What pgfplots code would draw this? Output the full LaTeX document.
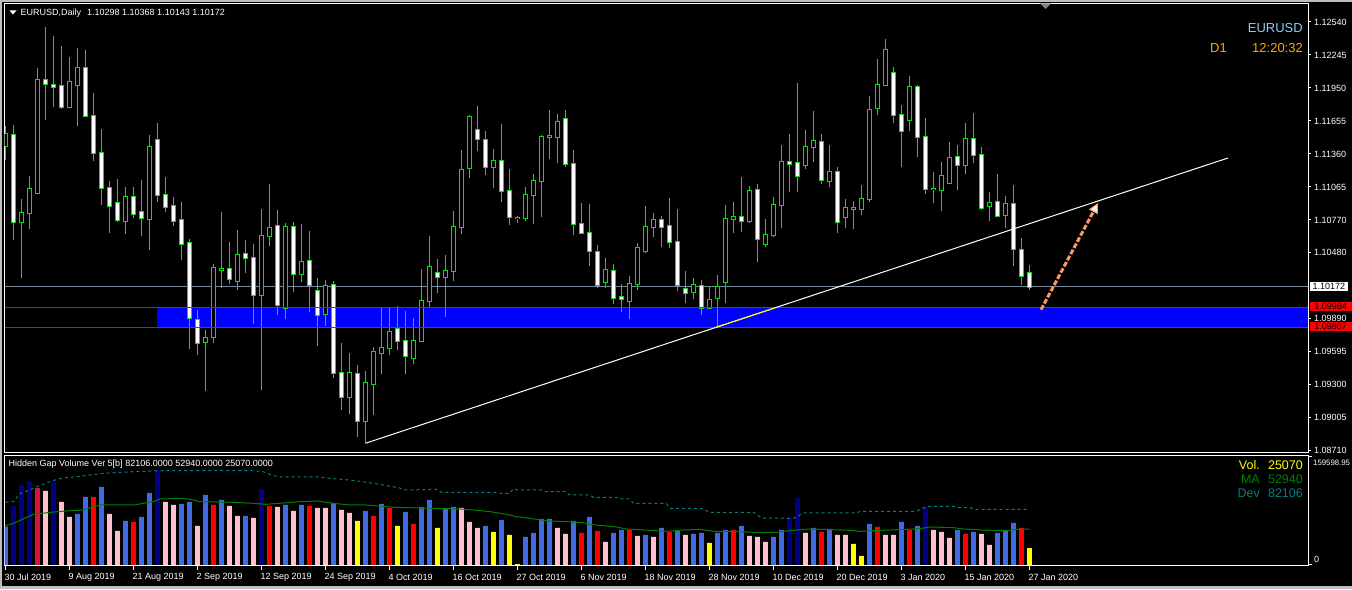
\documentclass[border=0pt]{standalone}
\usepackage{pgfplots}
\pgfplotsset{compat=1.18}
\usepackage{pgfplotstable}
\usepackage{fontspec}
\setmainfont{Liberation Sans}
\usetikzlibrary{arrows.meta}

\definecolor{cgreen}{RGB}{0,230,0}
\definecolor{royal}{RGB}{65,105,225}
\definecolor{navyb}{RGB}{0,0,128}
\definecolor{crim}{RGB}{220,20,60}
\definecolor{pinkc}{RGB}{255,192,203}
\definecolor{yel}{RGB}{255,255,0}
\definecolor{mag}{RGB}{0,128,0}
\definecolor{devc}{RGB}{0,128,128}
\definecolor{zone}{RGB}{0,0,255}
\definecolor{bidgray}{RGB}{119,136,153}
\definecolor{skyl}{RGB}{135,206,250}
\definecolor{orng}{RGB}{255,165,0}
\definecolor{arrowc}{RGB}{250,150,100}
\definecolor{frame}{RGB}{190,190,190}

% bullish candles (close > open)
\pgfplotstableread{
k O H L C
0 1.11435 1.11611 1.11307 1.11539
2 1.10749 1.10958 1.10255 1.10830
3 1.10836 1.11161 1.10693 1.11044
4 1.11015 1.12129 1.11003 1.12019
8 1.11784 1.12225 1.11775 1.12001
9 1.11974 1.12308 1.11614 1.12126
15 1.10758 1.11062 1.10648 1.10973
18 1.10776 1.11527 1.10505 1.11420
25 1.09677 1.09784 1.09245 1.09712
26 1.09721 1.10374 1.09674 1.10338
27 1.10327 1.10839 1.10159 1.10329
29 1.10228 1.10678 1.10147 1.10454
32 1.10097 1.10866 1.09253 1.10624
33 1.10624 1.11089 1.10541 1.10696
35 1.09981 1.10741 1.09888 1.10705
37 1.10285 1.10732 1.10219 1.10392
40 1.09927 1.10231 1.09826 1.10177
43 1.09185 1.09578 1.09039 1.09400
45 1.08970 1.09417 1.08774 1.09310
46 1.09301 1.09632 1.09030 1.09587
47 1.09578 1.09981 1.09397 1.09623
48 1.09623 1.09981 1.09560 1.09766
51 1.09534 1.09891 1.09486 1.09686
52 1.09686 1.10329 1.09683 1.10043
53 1.10043 1.10624 1.09996 1.10347
55 1.10258 1.10454 1.09906 1.10311
56 1.10311 1.10848 1.10222 1.10705
57 1.10705 1.11393 1.10642 1.11214
58 1.11232 1.11706 1.11143 1.11688
61 1.11241 1.11402 1.11053 1.11295
64 1.10784 1.10803 1.10741 1.10786
65 1.10785 1.11062 1.10758 1.10991
66 1.10991 1.11179 1.10732 1.11116
67 1.11116 1.11527 1.10794 1.11509
68 1.11512 1.11751 1.11313 1.11518
69 1.11509 1.11715 1.11277 1.11643
75 1.10213 1.10428 1.10159 1.10320
78 1.10043 1.10267 1.09882 1.10195
79 1.10195 1.10562 1.10142 1.10517
80 1.10490 1.10893 1.10472 1.10705
81 1.10705 1.10830 1.10615 1.10767
86 1.10124 1.10249 1.10061 1.10186
88 1.09981 1.10168 1.09972 1.10052
89 1.10070 1.10276 1.09802 1.10168
90 1.10213 1.10901 1.10025 1.10776
91 1.10776 1.10928 1.10651 1.10794
93 1.10758 1.11071 1.10741 1.11027
95 1.10553 1.10776 1.10526 1.10633
96 1.10633 1.10973 1.10615 1.10901
97 1.10901 1.11438 1.10696 1.11286
100 1.11259 1.11572 1.11223 1.11420
101 1.11420 1.11742 1.11286 1.11474
103 1.11116 1.11438 1.11062 1.11196
105 1.10794 1.10955 1.10696 1.10875
106 1.10871 1.10937 1.10687 1.10873
107 1.10866 1.11080 1.10812 1.10955
108 1.10955 1.11879 1.10928 1.11751
109 1.11769 1.12207 1.11706 1.11974
110 1.11974 1.12385 1.11965 1.12287
113 1.11661 1.12055 1.11563 1.11956
116 1.11043 1.11196 1.10919 1.11045
117 1.11036 1.11286 1.10848 1.11161
118 1.11098 1.11465 1.11089 1.11322
120 1.11259 1.11635 1.11179 1.11491
123 1.10893 1.11018 1.10758 1.10919
125 1.10812 1.10982 1.10696 1.10910
}\bull

% bearish candles (close < open)
\pgfplotstableread{
k O H L C
1 1.11527 1.11620 1.10592 1.10749
5 1.12019 1.12493 1.11667 1.11983
6 1.11974 1.12412 1.11784 1.11956
7 1.11965 1.12323 1.11766 1.11784
10 1.12126 1.12287 1.11697 1.11697
11 1.11697 1.11903 1.11301 1.11366
12 1.11366 1.11581 1.10907 1.11053
13 1.11053 1.11116 1.10657 1.10893
14 1.10919 1.11134 1.10755 1.10767
16 1.10973 1.11062 1.10791 1.10827
17 1.10839 1.11125 1.10630 1.10785
19 1.11483 1.11635 1.10934 1.10991
20 1.10991 1.11152 1.10845 1.10884
21 1.10893 1.10973 1.10720 1.10758
22 1.10767 1.10928 1.10416 1.10553
23 1.10562 1.10597 1.09620 1.09891
24 1.09873 1.09963 1.09566 1.09668
28 1.10329 1.10571 1.10195 1.10240
30 1.10463 1.10588 1.10299 1.10428
31 1.10428 1.10553 1.09844 1.10097
34 1.10714 1.10857 1.09924 1.10007
36 1.10705 1.10749 1.10130 1.10285
38 1.10401 1.10669 1.09951 1.10186
39 1.10133 1.10249 1.09647 1.09918
41 1.10186 1.10222 1.09361 1.09400
42 1.09400 1.09668 1.09075 1.09185
44 1.09391 1.09471 1.08833 1.08970
49 1.09793 1.09998 1.09611 1.09686
50 1.09686 1.09954 1.09397 1.09551
54 1.10294 1.10419 1.10115 1.10258
59 1.11572 1.11786 1.11384 1.11491
60 1.11483 1.11563 1.11170 1.11241
62 1.11295 1.11626 1.10928 1.11027
63 1.11027 1.11223 1.10723 1.10794
70 1.11670 1.11751 1.11241 1.11268
71 1.11268 1.11393 1.10633 1.10732
72 1.10732 1.10919 1.10642 1.10651
73 1.10651 1.10910 1.10356 1.10490
74 1.10481 1.10544 1.10159 1.10186
76 1.10311 1.10374 1.10016 1.10070
77 1.10079 1.10195 1.09945 1.10061
82 1.10767 1.10803 1.10526 1.10705
83 1.10714 1.10964 1.10517 1.10571
84 1.10571 1.10866 1.10133 1.10186
85 1.10150 1.10311 1.10025 1.10115
87 1.10177 1.10231 1.09918 1.09981
92 1.10794 1.11152 1.10660 1.10758
94 1.11036 1.11089 1.10392 1.10597
98 1.11286 1.11536 1.11024 1.11268
99 1.11277 1.11992 1.11018 1.11161
102 1.11465 1.11536 1.11095 1.11125
104 1.11196 1.11241 1.10657 1.10749
111 1.12082 1.12135 1.11635 1.11706
112 1.11706 1.11795 1.11241 1.11563
114 1.11956 1.11974 1.11331 1.11509
115 1.11509 1.11679 1.11006 1.11044
119 1.11331 1.11438 1.11036 1.11259
121 1.11491 1.11724 1.11277 1.11348
122 1.11348 1.11420 1.10857 1.10875
124 1.10928 1.11179 1.10794 1.10803
126 1.10910 1.11080 1.10356 1.10508
127 1.10499 1.10606 1.10186 1.10267
128 1.10298 1.10368 1.10143 1.10172
}\bear

\pgfplotsset{
  wick/.style={mark=none, draw opacity=0, forget plot,
    error bars/.cd, y dir=plus, y explicit, error mark=none,
    error bar style={draw=cgreen, draw opacity=1, line width=1pt}},
  bodyline/.style={mark=none, draw opacity=0, forget plot,
    error bars/.cd, y dir=plus, y explicit, error mark=none,
    error bar style={draw=cgreen, draw opacity=1, line width=5pt, shorten <=-1pt, shorten >=-1pt}},
  bodyfill/.style={mark=none, draw opacity=0, forget plot,
    error bars/.cd, y dir=plus, y explicit, error mark=none,
    error bar style={draw=#1, draw opacity=1, line width=3pt}},
  vbar/.style={ybar, bar width=0.6, bar shift=0pt, draw=none, fill=#1, forget plot},
}

\begin{document}
\begin{tikzpicture}[x=1pt,y=1pt]
\fill[black] (0,0) rectangle (1352,589);
\useasboundingbox (0,0) rectangle (1352,589);
\fill[frame] (0,587) rectangle (1352,589);
\fill[frame] (0,0) rectangle (1.7,589);
\fill[frame] (0,0) rectangle (1352,2.5);

% ---------------- price panel ----------------
\begin{axis}[
  at={(4.7pt,136pt)}, anchor=south west, scale only axis,
  width=1303.3pt, height=449pt,
  xmin=-0.1, xmax=162.81, ymin=1.08687, ymax=1.12701,
  axis background/.style={fill=black},
  axis line style={white, line width=1pt},
  xtick=\empty,
  ytick={1.08710,1.09005,1.09300,1.09595,1.09890,1.10480,1.10770,1.11065,1.11360,1.11655,1.11950,1.12245,1.12540},
  yticklabels={1.08710,1.09005,1.09300,1.09595,1.09890,1.10480,1.10770,1.11065,1.11360,1.11655,1.11950,1.12245,1.12540},
  ytick pos=right, yticklabel pos=right,
  tick align=outside, major tick length=3pt,
  tick style={white, line width=1pt},
  yticklabel style={text=white, font=\fontsize{9}{10}\selectfont, anchor=west, inner sep=0pt, xshift=3pt},
  clip mode=individual,
]
\fill[zone] (axis cs:18.94,1.09807) rectangle (axis cs:162.81,1.09984);
\draw[bidgray, line width=1pt] (axis cs:-0.1,1.10172) -- (axis cs:162.81,1.10172);

\addplot[wick] table[x=k, y=L, y error expr=\thisrow{H}-\thisrow{L}] {\bull};
\addplot[wick] table[x=k, y=L, y error expr=\thisrow{H}-\thisrow{L}] {\bear};
\addplot[bodyline] table[x=k, y=O, y error expr=\thisrow{C}-\thisrow{O}] {\bull};
\addplot[bodyline] table[x=k, y=C, y error expr=\thisrow{O}-\thisrow{C}] {\bear};
\addplot[bodyfill=black] table[x=k, y=O, y error expr=\thisrow{C}-\thisrow{O}] {\bull};
\addplot[bodyfill=white] table[x=k, y=C, y error expr=\thisrow{O}-\thisrow{C}] {\bear};

\draw[red, line width=1pt] (axis cs:-0.1,1.09984) -- (axis cs:162.81,1.09984);
\draw[red, line width=1pt] (axis cs:-0.1,1.09807) -- (axis cs:162.81,1.09807);

\draw[white, line width=1pt] (axis cs:45,1.08774) -- (axis cs:152.8,1.11324);
\draw[yel, line width=1pt] (axis cs:88.67,1.09807) -- (axis cs:96.15,1.09984);

\draw[arrowc, line width=3pt, dash pattern=on 5pt off 2pt,
  -{Triangle[length=10pt,width=10pt,fill=white,line width=1pt]}]
  (axis cs:129.44,1.09968) -- (axis cs:136.56,1.10922);

\coordinate (bid) at (axis cs:162.81,1.10172);
\coordinate (zt) at (axis cs:162.81,1.09984);
\coordinate (zb) at (axis cs:162.81,1.09807);
\end{axis}

\node[fill=white, text=black, anchor=west, inner xsep=2.5pt, inner ysep=1.2pt, font=\fontsize{9}{10}\selectfont] at ([xshift=2pt]bid) {1.10172};
\node[fill=red, text=black, anchor=west, inner xsep=2.5pt, inner ysep=1.2pt, minimum width=42pt, font=\fontsize{9}{10}\selectfont] at ([xshift=1.5pt,yshift=1.5pt]zt) {1.09984};
\node[fill=red, text=black, anchor=west, inner xsep=2.5pt, inner ysep=1.2pt, minimum width=42pt, font=\fontsize{9}{10}\selectfont] at ([xshift=1.5pt,yshift=1.5pt]zb) {1.09807};

% ---------------- volume panel ----------------
\begin{axis}[
  at={(4.7pt,23pt)}, anchor=south west, scale only axis,
  width=1303.3pt, height=110pt,
  xmin=-0.1, xmax=162.81, ymin=-1475, ymax=160775,
  axis background/.style={fill=black},
  axis line style={white, line width=1pt},
  xtick={0,8,...,128}, xticklabels={}, xtick pos=bottom,
  ytick={0,159598.95}, yticklabels={}, ytick pos=right,
  tick align=outside, major tick length=4pt,
  tick style={white, line width=1pt},
  clip mode=individual,
]
\addplot[vbar=royal] coordinates {(0,56546) (9,75230) (10,100307) (12,115058) (15,64904) (17,70805) (18,106207) (22,89981) (23,92931) (25,103257) (27,95882) (30,72280) (35,88506) (37,88506) (41,91456) (45,79655) (47,89981) (50,78180) (52,85556) (53,95882) (55,84081) (56,85556) (60,57529) (62,66380) (65,41303) (66,47203) (67,67855) (68,67855) (71,64904) (73,70805) (76,47203) (77,51629) (80,44253) (82,54579) (84,50153) (86,45728) (87,47203) (89,47203) (90,51629) (92,57529) (96,41303) (97,51629) (101,54579) (103,53104) (108,60479) (112,63429) (114,57529) (119,51629) (121,48678) (124,47203) (125,50153) (126,61954)};
\addplot[vbar=navyb] coordinates {(1,87031) (2,118008) (3,123908) (6,122433) (19,140135) (32,112108) (98,69330) (99,98832) (115,85556)};
\addplot[vbar=crim] coordinates {(4,113583)};
\addplot[vbar=red] coordinates {(11,100307) (16,63429) (26,88506) (33,87031) (38,87031) (46,72280) (48,84081) (51,60479) (72,47203) (74,50153) (78,51629) (83,48678) (91,51629) (102,48678) (109,56054) (113,51629) (120,45728) (127,54579)};
\addplot[vbar=pinkc] coordinates {(5,109157) (7,92931) (8,70805) (13,75230) (14,50153) (20,92931) (21,88506) (24,57529) (28,87031) (29,72280) (31,69330) (34,85556) (36,79655) (39,84081) (40,84081) (42,81131) (43,76705) (57,84081) (58,63429) (59,54579) (69,54579) (70,45728) (75,33927) (79,42778) (81,41303) (85,44253) (93,42778) (94,41303) (95,33927) (100,47203) (104,44253) (105,44253) (110,44253) (111,44253) (116,51629) (117,48678) (118,39828) (122,45728) (123,29502)};
\addplot[vbar=yel] coordinates {(44,64904) (49,57529) (54,54579) (61,48678) (63,44253) (64,1200) (88,32452) (106,30977) (107,13276) (128,25070)};

% MA
\addplot[mag, line width=1pt, mark=none, forget plot] coordinates {(0,58021) (1,61463) (3.5,74739) (5.6,77689) (7.6,79655) (9.7,81131) (11.8,88506) (16,88506) (18.5,93423) (19.3,97357) (22.2,98340) (23.5,95882) (24.3,93423) (28.5,92440) (31,90964) (32.6,89489) (36.8,93423) (38.9,94406) (41,90964) (43,88506) (45,88506) (48.5,85064) (53.5,83589) (56.8,82606) (58.5,81131) (60.6,78672) (62.6,74739) (63.9,71297) (65.5,68838) (68,64904) (70.1,63921) (72.2,62446) (73,59987) (74.7,58021) (76.4,56054) (77.6,53104) (80.6,51138) (82.6,49662) (84.7,51629) (86.8,52612) (88.5,49662) (90.6,49662) (93.5,48187) (96.4,48187) (97.7,50153) (98.5,51138) (100.6,53104) (105.6,51138) (106.8,49662) (113.5,53104) (114.8,54579) (115.6,56054) (118.5,55071) (119.7,53104) (122.6,51138) (125.6,51138) (126.8,53104) (128,52940)};
% Deviation
\addplot[devc, line width=1pt, dash pattern=on 3pt off 3pt, mark=none, forget plot] coordinates {(0,92440) (1,93423) (1.8,105223) (2.6,108665) (3.9,115550) (4.7,118991) (5.6,122925) (6.6,126858) (7.6,128825) (9.3,130792) (10.6,132759) (11.8,134726) (13,135709) (16,137676) (20,139151) (31,139151) (32.2,137676) (33.5,131775) (34.5,129808) (39.3,129808) (40.5,127841) (42.5,125875) (44,123908) (45.5,121450) (47,118499) (49.3,113582) (50,110632) (54,111615) (54.5,107190) (61,107190) (61.8,105714) (63,105714) (63.5,112598) (64,110632) (67,110632) (67.5,108173) (70,108173) (70.5,103257) (73,103257) (73.5,99815) (76.4,99815) (76.8,97357) (78,97357) (78.5,90964) (82.6,90964) (83,83589) (87,83589) (88,77689) (93.5,77689) (94.5,69330) (98.5,68838) (99,71789) (99.7,76705) (106.4,76705) (106.8,79163) (113.9,79163) (114.5,83589) (115.6,86539) (118.5,86539) (119,84572) (120.6,84572) (121,82114) (128,82114)};
\end{axis}

% ---------------- texts ----------------
\fill[white] (9.5,578.5) -- (16.5,578.5) -- (13,574.5) -- cycle;
\node[anchor=west, inner sep=0pt, text=white, font=\fontsize{9}{10}\selectfont] at (20.5,576.3) {EURUSD,Daily\hspace{6pt}1.10298 1.10368 1.10143 1.10172};
\fill[gray] (1040,585.5) -- (1051,585.5) -- (1045.5,580) -- cycle;

\node[anchor=east, inner sep=0pt, text=skyl, font=\fontsize{13}{14}\selectfont] at (1303,560.7) {EURUSD};
\node[anchor=east, inner sep=0pt, text=orng, font=\fontsize{13}{14}\selectfont] at (1303,540.7) {12:20:32};
\node[anchor=west, inner sep=0pt, text=orng, font=\fontsize{13}{14}\selectfont] at (1210,540.7) {D1};

\node[anchor=west, inner sep=0pt, text=white, font=\fontsize{9}{10}\selectfont] at (8.5,125) {Hidden Gap Volume Ver 5[b] 82106.0000 52940.0000 25070.0000};
\node[anchor=east, inner sep=0pt, text=yel, font=\fontsize{12.5}{13}\selectfont] at (1260,124) {Vol.};
\node[anchor=east, inner sep=0pt, text=yel, font=\fontsize{12.5}{13}\selectfont] at (1303,124) {25070};
\node[anchor=east, inner sep=0pt, text=mag, font=\fontsize{12.5}{13}\selectfont] at (1260,110) {MA};
\node[anchor=east, inner sep=0pt, text=mag, font=\fontsize{12.5}{13}\selectfont] at (1303,110) {52940};
\node[anchor=east, inner sep=0pt, text=devc, font=\fontsize{12.5}{13}\selectfont] at (1260,96) {Dev};
\node[anchor=east, inner sep=0pt, text=devc, font=\fontsize{12.5}{13}\selectfont] at (1303,96) {82106};

\node[anchor=west, inner sep=0pt, text=white, font=\fontsize{7.8}{9}\selectfont] at (1313,126) {159598.95};
\node[anchor=west, inner sep=0pt, text=white, font=\fontsize{9}{10}\selectfont] at (1314,30) {0};

\foreach \k/\lab in {0/30 Jul 2019, 8/9 Aug 2019, 16/21 Aug 2019, 24/2 Sep 2019, 32/12 Sep 2019, 40/24 Sep 2019, 48/4 Oct 2019, 56/16 Oct 2019, 64/27 Oct 2019, 72/6 Nov 2019, 80/18 Nov 2019, 88/28 Nov 2019, 96/10 Dec 2019, 104/20 Dec 2019, 112/3 Jan 2020, 120/15 Jan 2020, 128/27 Jan 2020}
  \node[anchor=west, inner sep=0pt, text=white, font=\fontsize{9}{10}\selectfont] at ({4.5+8*\k},12) {\lab};
\end{tikzpicture}
\end{document}
